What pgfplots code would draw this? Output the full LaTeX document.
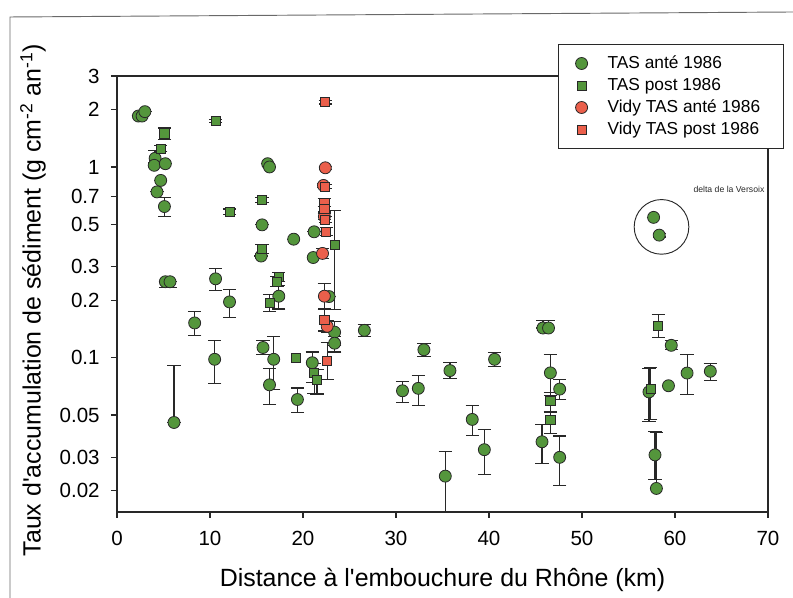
\documentclass[border=0pt]{standalone}
\usepackage{fontspec}
\setmainfont{Liberation Sans}
\usepackage{pgfplots}
\pgfplotsset{compat=1.18}
\usepackage{pgfplotstable}

\definecolor{tasgreen}{RGB}{84,150,60}
\definecolor{vidyred}{RGB}{235,95,75}
\definecolor{ink}{RGB}{40,40,40}

% distance (km), rate, error plus, error minus
\pgfplotstableread{
x     y       ep      em
2.3   1.85    0       0
2.7   1.85    0       0
3.0   1.95    0       0
4.1   1.11    0.11    0.05
4.0   1.02    0       0
5.2   1.04    0       0
4.7   0.85    0       0
4.3   0.74    0       0
5.1   0.62    0.07    0.07
5.2   0.25    0       0.016
5.7   0.25    0       0.016
10.6  0.259   0.034   0.034
12.1  0.196   0.032   0.033
8.35  0.152   0.022   0.021
10.5  0.098   0.025   0.025
6.13  0.0457  0.045   0
15.7  0.113   0.010   0.009
16.85 0.098   0.031   0.030
16.4  0.072   0.016   0.015
19.4  0.0603  0.009   0.009
16.2  1.04    0       0
16.4  1.00    0       0
15.6  0.497   0       0
19.0  0.418   0       0
15.5  0.341   0       0
17.4  0.21    0.03    0.03
21.2  0.457   0       0
21.1  0.335   0       0
22.8  0.209   0       0
23.4  0.136   0.018   0.020
23.4  0.119   0.010   0.012
26.6  0.139   0.010   0.010
21.0  0.094   0.013   0.020
30.7  0.067   0.008   0.009
32.4  0.069   0.012   0.013
33.0  0.110   0.008   0.009
35.3  0.0239  0.0084  0.015
35.8  0.0855  0.009   0.008
38.2  0.0474  0.0086  0.0084
39.5  0.0329  0.009   0.0084
40.6  0.098   0.0085  0.0086
45.8  0.143   0.013   0
46.4  0.143   0.013   0
46.6  0.0832  0.021   0.020
47.6  0.0684  0.0085  0.0082
45.7  0.0362  0.0083  0.0085
47.6  0.030   0.0088  0.0086
59.6  0.116   0.007   0.006
61.3  0.083   0.021   0.019
63.8  0.0848  0.008   0.0088
59.3  0.0712  0       0
57.2  0.0661  0.022   0.020
57.85 0.0309  0.010   0.008
58.0  0.0206  0.020   0
57.7  0.544   0       0
58.3  0.439   0.01    0.01
}\tasante

\pgfplotstableread{
x     y       ep      em
5.1   1.50    0.10    0.10
4.7   1.25    0.05    0.05
10.6  1.74    0.03    0.03
12.1  0.582   0.02    0.02
15.6  0.673   0.02    0.02
15.6  0.37    0.02    0.02
17.4  0.265   0.015   0.015
17.2  0.25    0.015   0.015
16.4  0.194   0.021   0.020
21.2  0.083   0.010   0.018
21.5  0.0765  0.010   0.012
23.4  0.389   0.20    0.21
46.6  0.0594  0.006   0.008
46.6  0.047   0.005   0.007
58.2  0.146   0.023   0.019
57.4  0.0685  0.020   0.021
}\taspost

\pgfplotstableread{
x     y
19.2  0.100
}\taspostnoerr

\pgfplotstableread{
x     y       ep      em
22.4  0.99    0.02    0.02
22.2  0.80    0.02    0.02
22.3  0.55    0.02    0.02
22.1  0.352   0.02    0.02
22.3  0.21    0.035   0.030
22.6  0.146   0.01    0.01
}\vidyante

\pgfplotstableread{
x     y       ep      em
22.4  2.19    0.05    0.05
22.4  0.79    0.02    0.02
22.3  0.65    0.03    0.03
22.3  0.60    0.02    0.02
22.4  0.53    0.02    0.02
22.5  0.459   0.02    0.02
22.3  0.158   0.02    0.02
22.6  0.096   0.024   0.019
}\vidypost

\begin{document}
\begin{tikzpicture}
\path[use as bounding box] (-87.75pt,-64.5pt) rectangle (507pt,384pt);
% page frame of the scan
\draw[ink!70, line width=0.7pt] (-80.25pt,-64.5pt) -- (-80.25pt,371.25pt) -- (507pt,375pt);

\begin{axis}[
  at={(0pt,0pt)}, anchor=south west,
  scale only axis,
  width=488.25pt, height=327pt,
  xmin=0, xmax=70,
  ymode=log, ymin=0.0155, ymax=3,
  xtick={0,10,...,70},
  ytick={0.02,0.03,0.05,0.1,0.2,0.3,0.5,0.7,1,2,3},
  yticklabels={0.02,0.03,0.05,0.1,0.2,0.3,0.5,0.7,1,2,3},
  yminorticks=false,
  tick pos=left, tick align=outside,
  major tick length=4.5pt,
  axis line style={ink, line width=0.9pt},
  tick style={ink, line width=0.9pt},
  ticklabel style={font=\fontsize{15.4}{18}\selectfont},
  xticklabel style={yshift=-6pt},
  yticklabel style={xshift=-5pt},
  /pgf/number format/assume math mode=true,
  xlabel={Distance à l\textquotesingle embouchure du Rhône (km)},
  ylabel={Taux d\textquotesingle accumulation de sédiment (g cm\textsuperscript{-2} an\textsuperscript{-1})},
  label style={font=\fontsize{18.7}{22}\selectfont},
  xlabel style={at={(axis description cs:0.5,-0.172)}, anchor=base},
  ylabel style={at={(axis description cs:-0.129,0.486)}, anchor=center},
  legend style={at={(rel axis cs:0.677,1.073)}, anchor=north west,
    draw=ink, line width=0.8pt, fill=white,
    font=\fontsize{13}{15}\selectfont,
    inner xsep=13pt, inner ysep=6pt, row sep=0.3pt,
    nodes={inner ysep=2pt, inner xsep=4.3pt, text height=9.5pt, text depth=2.7pt},
    /tikz/every odd column/.append style={column sep=10.7pt}},
  legend cell align=left,
  error bars/y dir=both,
  error bars/y explicit,
  error bars/error bar style={ink, line width=0.85pt},
  error bars/error mark options={rotate=90, mark size=5pt, ink, line width=0.85pt},
]

\addplot[only marks, mark=*, mark size=4.5pt,
  mark options={fill=tasgreen, draw=ink, line width=0.6pt}]
  table[x=x, y=y, y error plus=ep, y error minus=em] {\tasante};
\addplot[only marks, mark=square*, mark size=3.4pt,
  mark options={fill=tasgreen, draw=ink, line width=0.6pt}]
  table[x=x, y=y, y error plus=ep, y error minus=em] {\taspost};
\addplot[only marks, mark=*, mark size=4.5pt,
  mark options={fill=vidyred, draw=ink, line width=0.6pt}]
  table[x=x, y=y, y error plus=ep, y error minus=em] {\vidyante};
\addplot[only marks, mark=square*, mark size=3.4pt,
  mark options={fill=vidyred, draw=ink, line width=0.6pt}]
  table[x=x, y=y, y error plus=ep, y error minus=em] {\vidypost};
\addplot[only marks, mark=square*, mark size=3.4pt, forget plot,
  error bars/y dir=none,
  mark options={fill=tasgreen, draw=ink, line width=0.6pt}]
  table[x=x, y=y] {\taspostnoerr};

\legend{TAS anté 1986, TAS post 1986, Vidy TAS anté 1986, Vidy TAS post 1986}

\draw[ink, line width=0.7pt] (axis cs:58.55,0.485) circle[radius=20.5pt];
\node[font=\fontsize{6.5}{8}\selectfont, text=ink] at (axis cs:65.8,0.76) {delta de la Versoix};
\end{axis}
\end{tikzpicture}
\end{document}
